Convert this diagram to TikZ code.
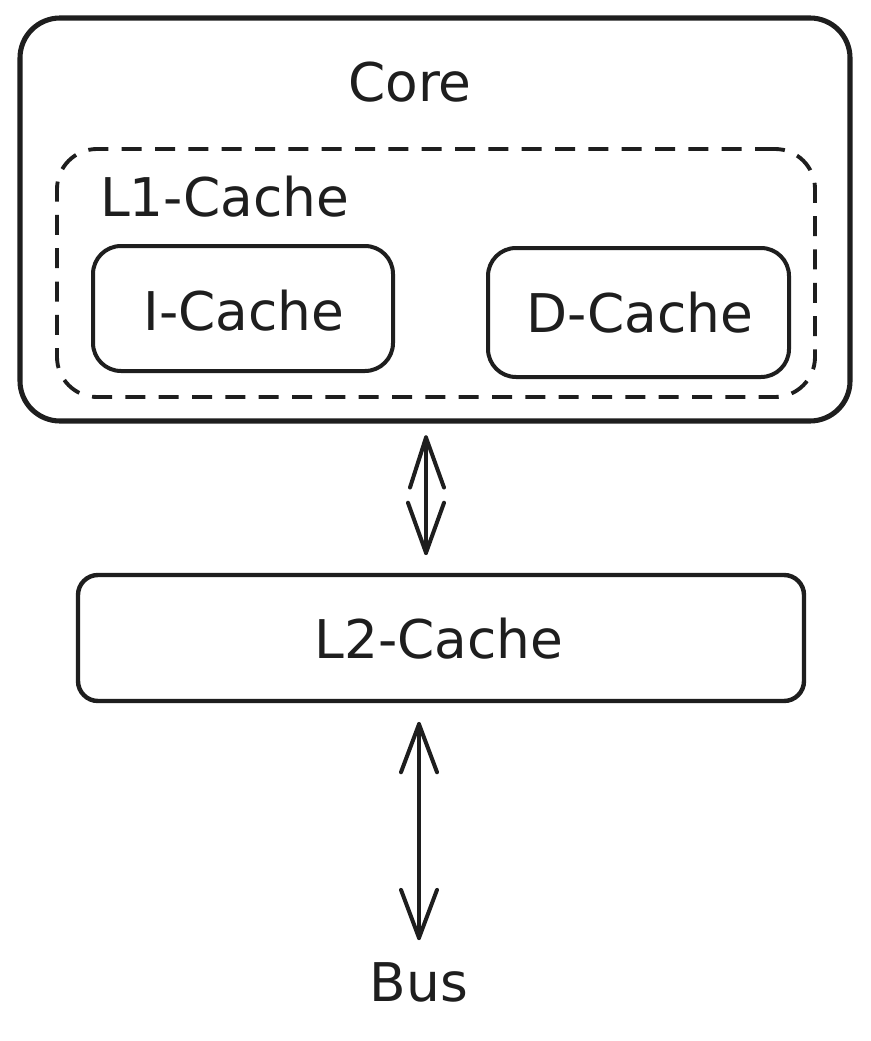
\documentclass[tikz,border=0pt]{standalone}
\usepackage{fontspec}
\setmainfont{DejaVu Sans}
\definecolor{ink}{HTML}{1E1E1E}
\begin{document}
\begin{tikzpicture}[x=0.75pt,y=-0.75pt,
  box/.style={draw=ink, line width=3pt, inner sep=0pt, fill=none},
  outerbox/.style={box, line width=3.8pt, rounded corners=30pt},
  l1box/.style={box, line width=2.9pt, dashed, dash pattern=on 15pt off 10pt, rounded corners=30pt},
  cachebox/.style={box, rounded corners=21pt},
  l2box/.style={box, line width=3.3pt, rounded corners=15pt},
  lbl/.style={font=\fontsize{40}{48}\selectfont, text=ink, inner sep=0pt, anchor=base},
  shaft/.style={draw=ink, line width=3.4pt, line cap=round},
  head/.style={draw=ink, line width=3pt, line cap=round, line join=round}
]
\useasboundingbox[fill=white] (0,0) rectangle (870,1041);

% boxes
\node[outerbox, minimum width=622.5pt, minimum height=302.25pt] (core) at (435,219.5) {};
\node[l1box, minimum width=568.5pt, minimum height=186pt] (l1) at (436,273) {};
\node[cachebox, minimum width=225pt, minimum height=93.75pt] (ic) at (243,308.5) {};
\node[cachebox, minimum width=225.75pt, minimum height=96.75pt] (dc) at (638.5,312.5) {};
\node[l2box, minimum width=544.5pt, minimum height=94.5pt] (l2) at (441,638) {};

% labels
\node[lbl] (corelbl) at (410,102) {Core};
\node[lbl, anchor=base west] (l1lbl) at (100,217) {L1-Cache};
\node[lbl] (iclbl) at (244,330) {I-Cache};
\node[lbl] (dclbl) at (640,332) {D-Cache};
\node[lbl] (l2lbl) at (439,658) {L2-Cache};
\node[lbl] (bus) at (419,1001) {Bus};

% connector end points
\coordinate (a1) at (426,0);
\path (core.south -| a1) ++(0,14) coordinate (a1t);
\path (l2.north -| a1) ++(0,-20) coordinate (a1b);
\path (l2.south -| bus) ++(0,21) coordinate (a2t);
\path (bus.north) ++(0,-24) coordinate (a2b);

% connectors
\draw[shaft] (a1t) -- (a1b);
\draw[head] ([shift={(-16,50)}]a1t) -- (a1t) -- ([shift={(18,50)}]a1t);
\draw[head] ([shift={(-18,-50)}]a1b) -- (a1b) -- ([shift={(18,-50)}]a1b);
\draw[shaft] (a2t) -- (a2b);
\draw[head] ([shift={(-18,48)}]a2t) -- (a2t) -- ([shift={(18,48)}]a2t);
\draw[head] ([shift={(-18,-48)}]a2b) -- (a2b) -- ([shift={(18,-48)}]a2b);
\end{tikzpicture}
\end{document}
